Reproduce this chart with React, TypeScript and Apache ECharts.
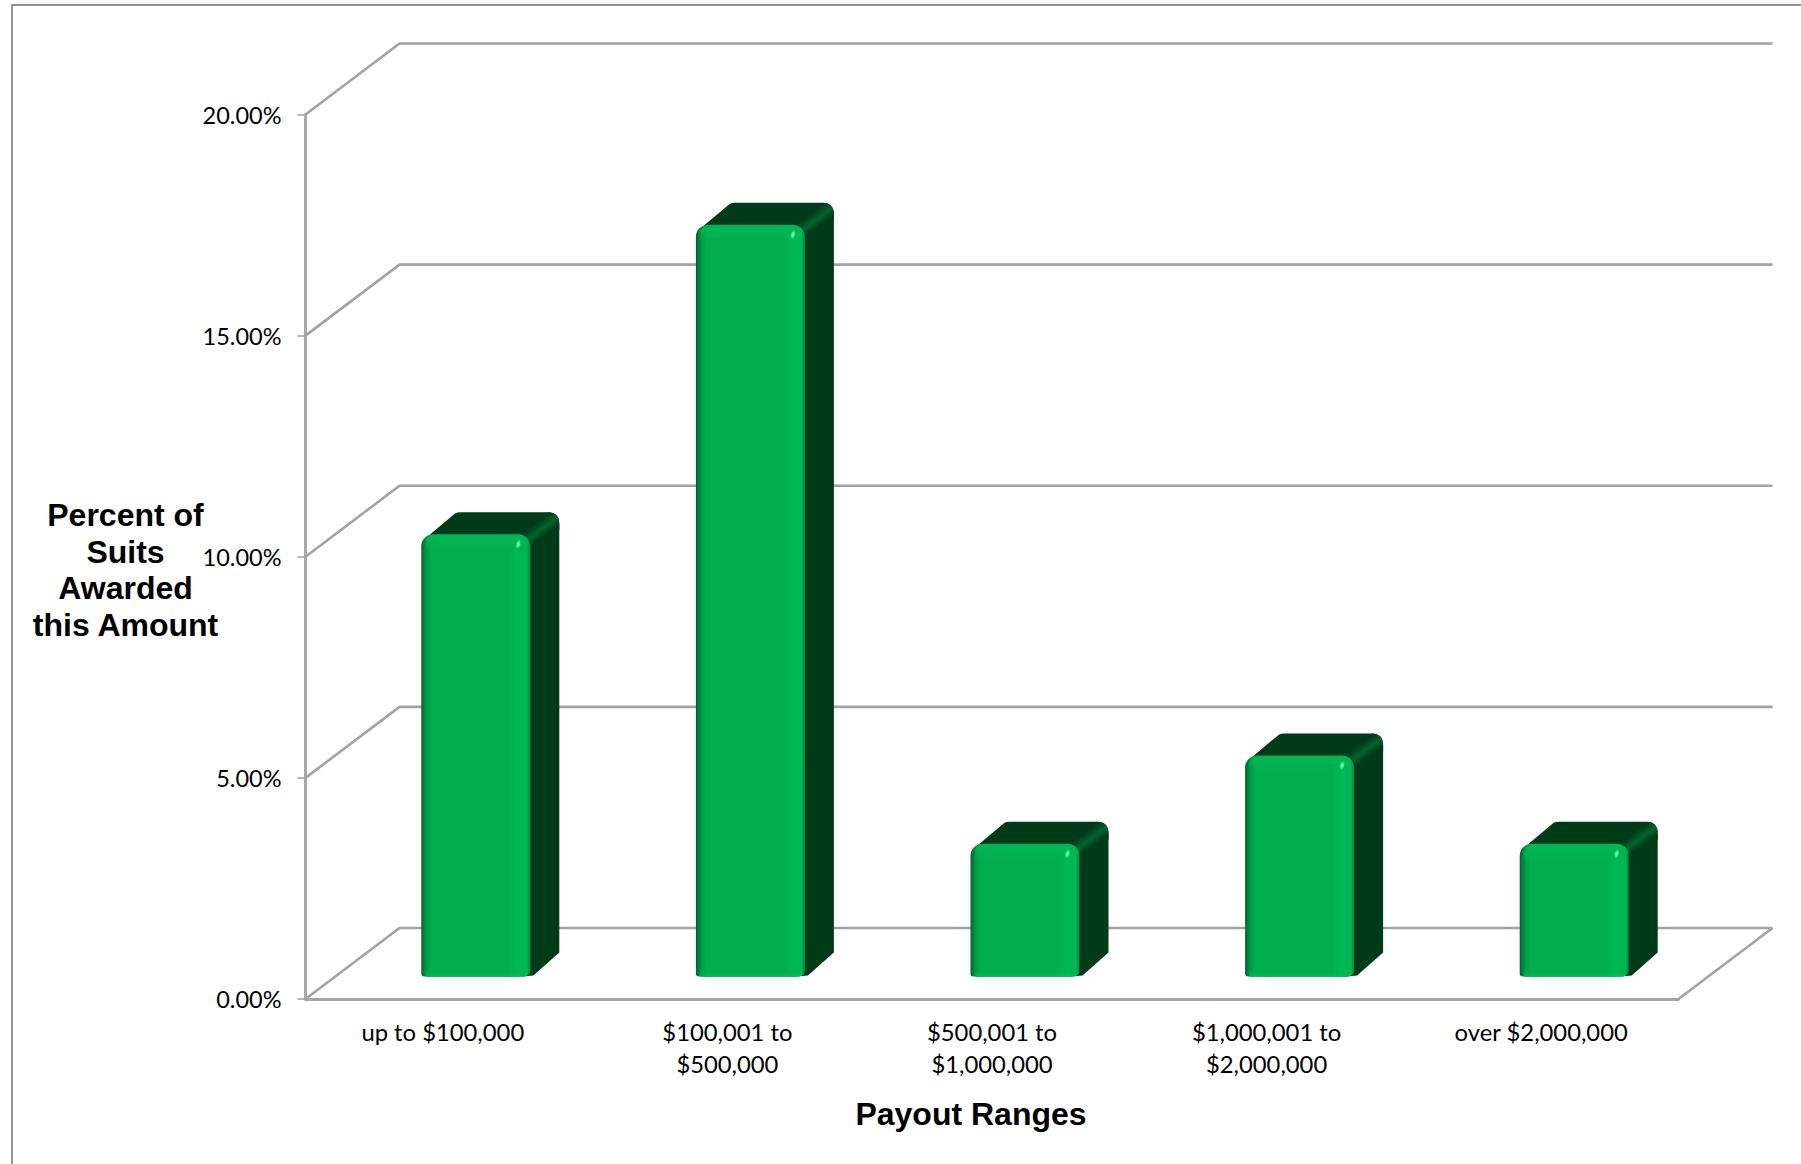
import React, { useEffect, useRef } from "react";
import * as echarts from "echarts";

const categories = [
  "up to $100,000",
  "$100,001 to\n$500,000",
  "$500,001 to\n$1,000,000",
  "$1,000,001 to\n$2,000,000",
  "over $2,000,000",
];
const percentAwarded = [10, 17, 3, 5, 3];
const axisTicks = [0, 5, 10, 15, 20];

const yAxisTitle = "Percent of\nSuits\nAwarded\nthis Amount";
const xAxisTitle = "Payout Ranges";

const GRID = "#a3a3a3";
const FLOOR_DEPTH = { x: 94, y: -71 };
const BAR_DEPTH = { x: 29, y: -22 };
const BAR_WIDTH = 109;
const BAR_SHIFT = { x: 33, y: -22.5 };

function renderWall(_params: any, api: any) {
  const v = api.value(1);
  const [cx, y] = api.coord([0, v]);
  const cw = api.size([1, 0])[0];
  const left = cx - cw / 2;
  const right = left + cw * categories.length;
  const style = { stroke: GRID, lineWidth: 2.6, fill: "none" };
  const children: any[] = [
    {
      type: "polyline",
      shape: {
        points: [
          [left, y],
          [left + FLOOR_DEPTH.x, y + FLOOR_DEPTH.y],
          [right + FLOOR_DEPTH.x, y + FLOOR_DEPTH.y],
        ],
      },
      style,
    },
  ];
  if (v === 0) {
    children.push({
      type: "line",
      shape: { x1: right, y1: y, x2: right + FLOOR_DEPTH.x, y2: y + FLOOR_DEPTH.y },
      style,
    });
  }
  return { type: "group", children };
}

// One bevelled 3D column: dark side and top faces behind a rounded front face.
function renderColumn(_params: any, api: any) {
  const i = api.value(0);
  const [cx, y] = api.coord([i, api.value(1)]);
  const [, y0] = api.coord([i, 0]);
  const c = cx + BAR_SHIFT.x;
  const L = c - BAR_WIDTH / 2;
  const R = c + BAR_WIDTH / 2;
  const t = y + BAR_SHIFT.y;
  const b = y0 + BAR_SHIFT.y;
  const dx = BAR_DEPTH.x;
  const dy = BAR_DEPTH.y;
  const silhouette = `M${L + 3} ${t + 5} L${L + dx + 5} ${t + dy + 1} Q${L + dx + 7} ${t + dy} ${L + dx + 10} ${t + dy} L${R + dx - 12} ${t + dy} Q${R + dx} ${t + dy} ${R + dx} ${t + dy + 12} L${R + dx} ${b + dy - 2} L${R + 3} ${b - 1} L${R - 8} ${b} L${L + 5} ${b} Z`;
  const edge = `M${R - 9} ${t} L${R + dx - 11} ${t + dy} Q${R + dx} ${t + dy} ${R + dx} ${t + dy + 12} L${R + dx} ${t + dy + 18} L${R + 1} ${t + 18} Z`;
  return {
    type: "group",
    children: [
      {
        type: "path",
        shape: { pathData: silhouette, layout: "cover", x: L + 3, y: t + dy, width: R + dx - L - 3, height: b - t - dy },
        style: { fill: "#003b19" },
      },
      {
        type: "path",
        shape: { pathData: edge, layout: "cover", x: R - 9, y: t + dy, width: dx + 9, height: 18 - dy },
        style: {
          fill: {
            type: "linear",
            global: true,
            x: R - 9,
            y: t,
            x2: R - 9 + 9,
            y2: t + 12,
            colorStops: [
              { offset: 0, color: "#003b19" },
              { offset: 0.2, color: "#004a21" },
              { offset: 0.55, color: "#00642e" },
              { offset: 1, color: "#003b19" },
            ],
          },
        },
      },
      {
        type: "rect",
        shape: { x: L, y: t, width: BAR_WIDTH, height: b - t, r: [12, 12, 6, 3] },
        style: {
          fill: {
            type: "linear",
            x: 0,
            y: 0,
            x2: 1,
            y2: 0,
            colorStops: [
              { offset: 0, color: "#005d2a" },
              { offset: 0.02, color: "#007d39" },
              { offset: 0.06, color: "#00a049" },
              { offset: 0.1, color: "#00ae50" },
              { offset: 0.8, color: "#00ae50" },
              { offset: 0.88, color: "#00b854" },
              { offset: 0.97, color: "#00b553" },
              { offset: 1, color: "#008a40" },
            ],
          },
        },
      },
      {
        type: "rect",
        shape: { x: L + 4, y: t + 1, width: BAR_WIDTH - 8, height: 16, r: [9, 9, 0, 0] },
        style: {
          fill: {
            type: "linear",
            x: 0,
            y: 0,
            x2: 0,
            y2: 1,
            colorStops: [
              { offset: 0, color: "rgba(0,184,84,0.85)" },
              { offset: 0.6, color: "rgba(0,180,82,0.5)" },
              { offset: 1, color: "rgba(0,176,80,0)" },
            ],
          },
        },
      },
      {
        type: "rect",
        shape: { x: L + 4, y: b - 7, width: BAR_WIDTH - 8, height: 7, r: [0, 0, 3, 3] },
        style: {
          fill: {
            type: "linear",
            x: 0,
            y: 0,
            x2: 0,
            y2: 1,
            colorStops: [
              { offset: 0, color: "rgba(0,176,80,0)" },
              { offset: 1, color: "rgba(0,190,88,0.8)" },
            ],
          },
        },
      },
      {
        type: "ellipse",
        x: R - 12,
        y: t + 10,
        rotation: -0.25,
        shape: { cx: 0, cy: 0, rx: 3, ry: 5.5 },
        style: {
          fill: {
            type: "radial",
            x: 0.5,
            y: 0.5,
            r: 0.5,
            colorStops: [
              { offset: 0, color: "#8dffc0" },
              { offset: 0.5, color: "#3fe88c" },
              { offset: 1, color: "rgba(0,190,88,0)" },
            ],
          },
        },
      },
    ],
  };
}

export default function App() {
  const ref = useRef<HTMLDivElement>(null);

  useEffect(() => {
    const chart = echarts.init(ref.current!, undefined, { renderer: "svg" });
    chart.setOption({
      animation: false,
      backgroundColor: "#ffffff",
      grid: { left: 305.5, top: 114.5, width: 1373, height: 884.5, containLabel: false },
      xAxis: {
        type: "category",
        data: categories,
        name: xAxisTitle,
        nameLocation: "middle",
        nameGap: 99,
        nameMoveOverlap: false,
        nameTextStyle: {
          fontFamily: "Liberation Sans",
          fontWeight: "bold",
          fontSize: 32,
          color: "#000",
          padding: [0, 42, 0, 0],
        },
        axisLine: { lineStyle: { color: GRID, width: 2.8 } },
        axisTick: { length: 9, lineStyle: { color: GRID, width: 1.6 } },
        axisLabel: {
          interval: 0,
          margin: 16.5,
          fontFamily: "Lato",
          fontSize: 23.8,
          lineHeight: 32,
          color: "#000",
          formatter: (label: string, index: number) =>
            index === 1
              ? label.split("\n").map((line) => `{shifted|${line}}`).join("\n")
              : label,
          rich: {
            shifted: {
              fontFamily: "Lato",
              fontSize: 23.8,
              lineHeight: 32,
              color: "#000",
              padding: [0, 0, 0, 20],
            },
          },
        },
      },
      yAxis: {
        type: "value",
        min: 0,
        max: 20,
        interval: 5,
        splitLine: { show: false },
        axisLine: { show: true, lineStyle: { color: GRID, width: 2.8 } },
        axisTick: { show: true, length: 8, lineStyle: { color: GRID, width: 1.6 } },
        axisLabel: {
          margin: 24,
          fontFamily: "Lato",
          fontSize: 23.5,
          color: "#000",
          formatter: (v: number) => `${v.toFixed(2)}%`,
        },
      },
      series: [
        {
          type: "custom",
          name: "Walls",
          z: 1,
          silent: true,
          renderItem: renderWall,
          encode: { x: 0, y: 1 },
          data: axisTicks.map((v) => [0, v]),
        },
        {
          type: "custom",
          name: "Percent of Suits",
          z: 3,
          renderItem: renderColumn,
          encode: { x: 0, y: 1 },
          data: percentAwarded.map((v, i) => [i, v]),
        },
      ],
      graphic: [
        {
          type: "polyline",
          silent: true,
          shape: { points: [[12, 1164], [12, 5], [1801, 5]] },
          style: { stroke: "#6e6e6e", lineWidth: 1.4, fill: "none" },
        },
        {
          type: "text",
          silent: true,
          x: 125.5,
          y: 570,
          style: {
            text: yAxisTitle,
            fontFamily: "Liberation Sans",
            fontWeight: "bold",
            fontSize: 32,
            lineHeight: 36.7,
            fill: "#000",
            align: "center",
            verticalAlign: "middle",
          },
        },
      ],
    });
    return () => chart.dispose();
  }, []);

  return (
    <div
      ref={ref}
      style={{ position: "absolute", left: 0, top: 0, width: 1801, height: 1164, overflow: "hidden" }}
    />
  );
}
